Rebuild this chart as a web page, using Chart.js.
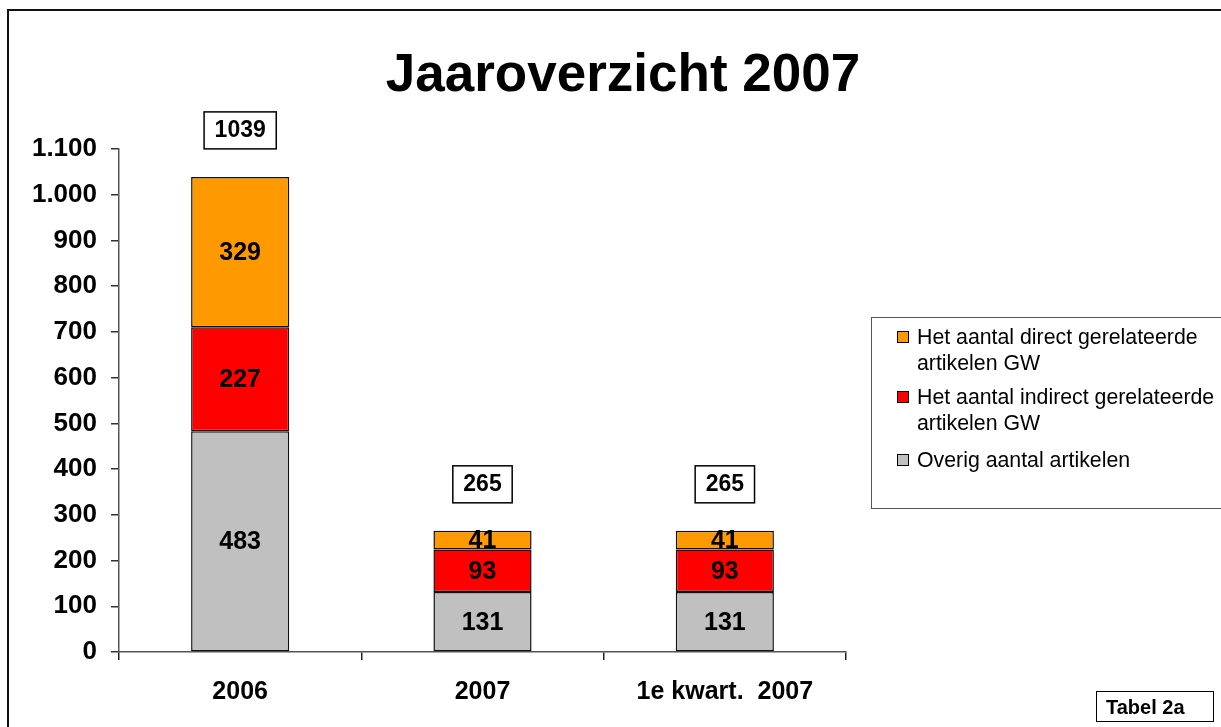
<!DOCTYPE html>
<html>
<head>
<meta charset="utf-8">
<script src="https://cdn.jsdelivr.net/npm/chart.js@4.4.1/dist/chart.umd.min.js"></script>
<style>
  body { margin: 0; width: 1221px; height: 727px; overflow: hidden; background: #fff; font-family: "Liberation Sans", Arial, sans-serif; }
  #chart { position: absolute; left: 0; top: 0; }
  .frame { position: absolute; left: 7px; top: 9px; width: 1300px; height: 800px; border-left: 2px solid #111; border-top: 2px solid #111; }
  .legend { position: absolute; left: 871px; top: 317px; width: 400px; height: 190px; border: 1px solid #555; }
  .item { position: absolute; left: 45px; font-size: 21.3px; line-height: 26px; color: #000; white-space: nowrap; }
  .item i { position: absolute; left: -20px; top: 7px; width: 10px; height: 10px; border: 1.5px solid #000; }
  .tabel { position: absolute; left: 1096px; top: 691px; width: 107px; height: 29px; padding-left: 9px; border: 1.5px solid #000; font-weight: bold; font-size: 20px; line-height: 30px; }
</style>
</head>
<body>
<div class="frame"></div>
<canvas id="chart" width="1221" height="727"></canvas>
<div class="legend" id="legend"></div>
<div class="tabel">Tabel 2a</div>
<script>
// categories and series (bottom to top of the stack)
const categories = ['2006', '2007', '1e kwart.  2007'];
const overig = [483, 131, 131];
const indirect = [227, 93, 93];
const direct = [329, 41, 41];
const totals = [1039, 265, 265];
const seriesNames = [
  'Overig aantal artikelen',
  'Het aantal indirect gerelateerde\nartikelen GW',
  'Het aantal direct gerelateerde\nartikelen GW'
];
const colors = ['#C0C0C0', '#FF0000', '#FF9900'];

const FONT = '"Liberation Sans", Arial, sans-serif';

function dots(v) {
  return String(v).replace(/\B(?=(\d{3})+(?!\d))/g, '.');
}

// title, segment values and boxed totals
const labelsPlugin = {
  id: 'labels',
  afterDatasetsDraw(chart) {
    const ctx = chart.ctx;
    ctx.save();
    ctx.fillStyle = '#000';
    ctx.textAlign = 'center';
    ctx.textBaseline = 'middle';
    ctx.font = 'bold 25px ' + FONT;
    chart.data.datasets.forEach((ds, i) => {
      chart.getDatasetMeta(i).data.forEach((bar, j) => {
        ctx.fillText(ds.data[j], bar.x, (bar.y + bar.base) / 2 + 1);
      });
    });
    const top = chart.getDatasetMeta(chart.data.datasets.length - 1).data;
    ctx.font = 'bold 23px ' + FONT;
    top.forEach((bar, j) => {
      const txt = String(totals[j]);
      const w = ctx.measureText(txt).width + 21;
      const cy = bar.y - 47;
      ctx.fillStyle = '#fff';
      ctx.fillRect(bar.x - w / 2, cy - 18, w, 37);
      ctx.strokeStyle = '#000';
      ctx.lineWidth = 1.5;
      ctx.strokeRect(bar.x - w / 2, cy - 18, w, 37);
      ctx.fillStyle = '#000';
      ctx.fillText(txt, bar.x, cy + 1);
    });
    ctx.font = 'bold 53px ' + FONT;
    ctx.textBaseline = 'alphabetic';
    ctx.fillText('Jaaroverzicht 2007', 623, 91);
    ctx.restore();
  }
};

new Chart(document.getElementById('chart'), {
  type: 'bar',
  data: {
    labels: categories,
    datasets: [overig, indirect, direct].map((d, i) => ({
      label: seriesNames[i],
      data: d,
      backgroundColor: colors[i],
      borderColor: '#111',
      borderWidth: 1.5,
      borderSkipped: false,
      barPercentage: 0.405,
      categoryPercentage: 1
    }))
  },
  options: {
    responsive: false,
    animation: false,
    devicePixelRatio: 1,
    layout: { padding: { top: 149, left: 0, right: 375, bottom: 0 } },
    plugins: {
      legend: { display: false },
      title: { display: false },
      tooltip: { enabled: false }
    },
    scales: {
      x: {
        stacked: true,
        afterFit(scale) { scale.height = 75; },
        grid: { drawOnChartArea: false, tickLength: 8, color: '#222', lineWidth: 1.5, offset: true },
        border: { color: '#555', width: 1.5 },
        ticks: { color: '#000', padding: 17, font: { family: FONT, size: 25, weight: 'bold' } }
      },
      y: {
        stacked: true,
        min: 0,
        max: 1100,
        afterFit(scale) { scale.width = 119; },
        grid: { drawOnChartArea: false, tickLength: 8, color: '#333', lineWidth: 1.5 },
        border: { color: '#555', width: 1.5 },
        ticks: {
          stepSize: 100,
          color: '#000',
          padding: 14,
          font: { family: FONT, size: 26, weight: 'bold' },
          callback: v => dots(v)
        }
      }
    }
  },
  plugins: [labelsPlugin]
});

// legend, top item first like the reference
const legend = document.getElementById('legend');
const itemTops = [6, 66, 129];
[2, 1, 0].forEach((k, n) => {
  const el = document.createElement('div');
  el.className = 'item';
  el.style.top = itemTops[n] + 'px';
  el.innerHTML = '<i style="background:' + colors[k] + '"></i>' + seriesNames[k].replace('\n', '<br>');
  legend.appendChild(el);
});
</script>
</body>
</html>
